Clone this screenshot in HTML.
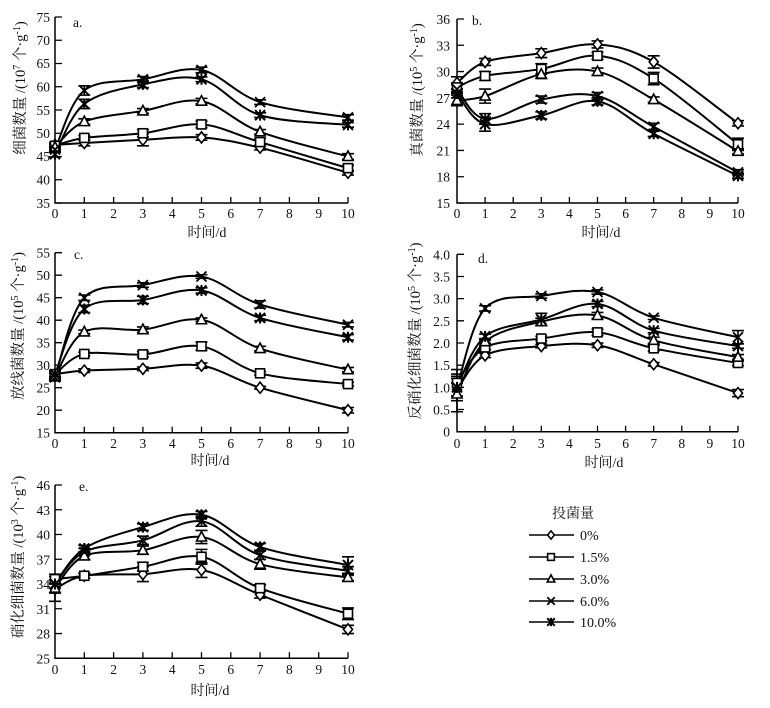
<!DOCTYPE html>
<html><head><meta charset="utf-8"><style>
html,body{margin:0;padding:0;background:#fff;}
svg{display:block;}
text{font-family:"Liberation Serif","Noto Serif CJK SC",serif;fill:#111;}
</style></head><body>
<svg id="s" width="770" height="708" viewBox="0 0 770 708" xmlns="http://www.w3.org/2000/svg">
<rect width="770" height="708" fill="#fff"/>
<g id="plots"></g>
<g font-size="13.5">
<!-- Panel a -->
<g text-anchor="end">
<text x="50" y="22">75</text><text x="50" y="45">70</text><text x="50" y="68">65</text><text x="50" y="91.5">60</text><text x="50" y="115">55</text><text x="50" y="138">50</text><text x="50" y="161">45</text><text x="50" y="184.5">40</text><text x="50" y="208">35</text>
</g>
<g text-anchor="middle">
<text x="55" y="218">0</text><text x="84.3" y="218">1</text><text x="113.6" y="218">2</text><text x="142.9" y="218">3</text><text x="172.2" y="218">4</text><text x="201.5" y="218">5</text><text x="230.8" y="218">6</text><text x="260.1" y="218">7</text><text x="289.4" y="218">8</text><text x="318.7" y="218">9</text><text x="348" y="218">10</text>
<text x="207" y="237" font-size="14">时间/d</text>
</g>
<text x="73" y="27">a.</text>
<text transform="translate(25,88) rotate(-90)" text-anchor="middle" font-size="14.5">细菌数量 /(10<tspan dy="-5" font-size="10">7</tspan><tspan dy="5"> 个·g</tspan><tspan dy="-5" font-size="10">-1</tspan><tspan dy="5">)</tspan></text>

<!-- Panel b -->
<g text-anchor="end">
<text x="450" y="24">36</text><text x="450" y="50.3">33</text><text x="450" y="76.6">30</text><text x="450" y="102.9">27</text><text x="450" y="129.1">24</text><text x="450" y="155.4">21</text><text x="450" y="181.7">18</text><text x="450" y="208">15</text>
</g>
<g text-anchor="middle">
<text x="457" y="218">0</text><text x="485.1" y="218">1</text><text x="513.2" y="218">2</text><text x="541.3" y="218">3</text><text x="569.4" y="218">4</text><text x="597.5" y="218">5</text><text x="625.6" y="218">6</text><text x="653.7" y="218">7</text><text x="681.8" y="218">8</text><text x="709.9" y="218">9</text><text x="738" y="218">10</text>
<text x="601" y="237" font-size="14">时间/d</text>
</g>
<text x="472" y="25">b.</text>
<text transform="translate(422,90) rotate(-90)" text-anchor="middle" font-size="14.5">真菌数量 /(10<tspan dy="-5" font-size="10">5</tspan><tspan dy="5"> 个·g</tspan><tspan dy="-5" font-size="10">-1</tspan><tspan dy="5">)</tspan></text>

<!-- Panel c -->
<g text-anchor="end">
<text x="50" y="257.7">55</text><text x="50" y="280.2">50</text><text x="50" y="302.7">45</text><text x="50" y="325.2">40</text><text x="50" y="347.7">35</text><text x="50" y="370.2">30</text><text x="50" y="392.7">25</text><text x="50" y="415.2">20</text><text x="50" y="437.7">15</text>
</g>
<g text-anchor="middle">
<text x="55" y="448">0</text><text x="84.3" y="448">1</text><text x="113.6" y="448">2</text><text x="142.9" y="448">3</text><text x="172.2" y="448">4</text><text x="201.5" y="448">5</text><text x="230.8" y="448">6</text><text x="260.1" y="448">7</text><text x="289.4" y="448">8</text><text x="318.7" y="448">9</text><text x="348" y="448">10</text>
<text x="210" y="465" font-size="14">时间/d</text>
</g>
<text x="74" y="259">c.</text>
<text transform="translate(23,326) rotate(-90)" text-anchor="middle" font-size="14.5">放线菌数量 /(10<tspan dy="-5" font-size="10">5</tspan><tspan dy="5"> 个·g</tspan><tspan dy="-5" font-size="10">-1</tspan><tspan dy="5">)</tspan></text>

<!-- Panel d -->
<g text-anchor="end">
<text x="450" y="259.3">4.0</text><text x="450" y="281.5">3.5</text><text x="450" y="303.7">3.0</text><text x="450" y="325.8">2.5</text><text x="450" y="348">2.0</text><text x="450" y="370.2">1.5</text><text x="450" y="392.4">1.0</text><text x="450" y="414.5">0.5</text><text x="450" y="436.7">0</text>
</g>
<g text-anchor="middle">
<text x="457" y="448">0</text><text x="485.1" y="448">1</text><text x="513.2" y="448">2</text><text x="541.3" y="448">3</text><text x="569.4" y="448">4</text><text x="597.5" y="448">5</text><text x="625.6" y="448">6</text><text x="653.7" y="448">7</text><text x="681.8" y="448">8</text><text x="709.9" y="448">9</text><text x="738" y="448">10</text>
<text x="604" y="467" font-size="14">时间/d</text>
</g>
<text x="478" y="263">d.</text>
<text transform="translate(420,331) rotate(-90)" text-anchor="middle" font-size="14.5">反硝化细菌数量 /(10<tspan dy="-5" font-size="10">5</tspan><tspan dy="5"> 个·g</tspan><tspan dy="-5" font-size="10">-1</tspan><tspan dy="5">)</tspan></text>

<!-- Panel e -->
<g text-anchor="end">
<text x="50" y="490">46</text><text x="50" y="514.8">43</text><text x="50" y="539.5">40</text><text x="50" y="564.3">37</text><text x="50" y="589">34</text><text x="50" y="613.8">31</text><text x="50" y="638.5">28</text><text x="50" y="663.3">25</text>
</g>
<g text-anchor="middle">
<text x="55" y="674">0</text><text x="84.3" y="674">1</text><text x="113.6" y="674">2</text><text x="142.9" y="674">3</text><text x="172.2" y="674">4</text><text x="201.5" y="674">5</text><text x="230.8" y="674">6</text><text x="260.1" y="674">7</text><text x="289.4" y="674">8</text><text x="318.7" y="674">9</text><text x="348" y="674">10</text>
<text x="210" y="695" font-size="14">时间/d</text>
</g>
<text x="79" y="491">e.</text>
<text transform="translate(23,557) rotate(-90)" text-anchor="middle" font-size="14.5">硝化细菌数量 /(10<tspan dy="-5" font-size="10">3</tspan><tspan dy="5"> 个·g</tspan><tspan dy="-5" font-size="10">-1</tspan><tspan dy="5">)</tspan></text>

<!-- Legend -->
<text x="573" y="518" text-anchor="middle" font-size="14">投菌量</text>
<text x="580" y="540" font-size="14">0%</text>
<text x="580" y="562" font-size="14">1.5%</text>
<text x="580" y="584" font-size="14">3.0%</text>
<text x="580" y="606" font-size="14">6.0%</text>
<text x="580" y="627" font-size="14">10.0%</text>
</g>
</svg>
<script>
(function(){
var NS="http://www.w3.org/2000/svg";
var G=document.getElementById("plots");
function el(n,a){var e=document.createElementNS(NS,n);for(var k in a)e.setAttribute(k,a[k]);G.appendChild(e);return e;}
var T=[0,1,3,5,7,10];
var panels=[
{x0:55,x1:348,yb:203,yt:17,vmin:35,vmax:75,step:5,
 d:[[47.5,47.9,48.6,49.1,46.9,41.5],[47.3,49,50,51.9,48.1,42.5],[47,52.5,54.8,56.9,50.3,45],[46.5,59.2,61.6,63.6,56.7,53.4],[45.5,56.3,60.5,61.6,53.9,51.8]],
 e:[[0.5,0.6,1.3,0.6,0.5,0.5],[0.5,0.5,0.8,0.7,0.8,0.6],[0.5,0.6,0.5,0.6,0.5,0.6],[0.6,1,0.6,0.6,0.5,0.6],[0.6,1,0.7,0.5,0.5,0.5]]},
{x0:457,x1:738,yb:203,yt:19,vmin:15,vmax:36,step:3,
 d:[[28.7,31.1,32.1,33.1,31.1,24.1],[28.2,29.5,30.3,31.8,29.2,21.7],[26.7,27.2,29.7,30,26.8,20.9],[28,24.6,26.8,27.2,23.7,18.5],[27.5,24,25,26.6,22.9,18.1]],
 e:[[0.7,0.4,0.5,0.4,0.7,0.3],[0.5,0.5,0.6,0.4,0.7,0.7],[0.6,0.8,0.5,0.4,0.3,0.3],[0.5,0.6,0.4,0.4,0.4,0.3],[0.5,0.8,0.4,0.4,0.3,0.3]]},
{x0:55,x1:348,yb:432.7,yt:252.7,vmin:15,vmax:55,step:5,
 d:[[28,28.8,29.2,29.9,25,20],[28,32.5,32.4,34.2,28.2,25.8],[27.5,37.4,37.9,40.1,33.7,29],[27.3,45,47.8,49.7,43.5,39],[28,42.5,44.5,46.6,40.5,36.2]],
 e:[[0.5,0.4,0.4,0.6,0.3,0.6],[0.5,0.4,0.6,0.9,0.4,0.4],[0.6,0.4,0.6,0.4,0.5,0.5],[0.8,0.6,0.5,0.4,0.8,0.5],[0.8,0.8,0.8,0.6,0.6,0.6]]},
{x0:457,x1:738,yb:431.7,yt:254.3,vmin:0,vmax:4,step:0.5,
 d:[[0.95,1.72,1.93,1.95,1.52,0.87],[1.1,1.9,2.1,2.24,1.88,1.55],[0.85,2.03,2.48,2.62,2.06,1.68],[1.0,2.78,3.06,3.15,2.57,2.13],[1.0,2.15,2.53,2.88,2.28,1.93]],
 e:[[0.15,0.05,0.04,0.05,0.04,0.08],[0.3,0.05,0.05,0.07,0.06,0.06],[0.4,0.04,0.08,0.07,0.07,0.06],[0.2,0.06,0.05,0.05,0.04,0.15],[0.3,0.05,0.14,0.06,0.05,0.05]]},
{x0:55,x1:348,yb:658.3,yt:485,vmin:25,vmax:46,step:3,
 d:[[33.4,35,35.2,35.7,32.7,28.5],[34.6,35,36.1,37.3,33.5,30.4],[33.5,37.4,38.1,39.7,36.4,34.8],[34,37.9,39.3,41.6,37.5,35.6],[34,38.3,40.9,42.4,38.5,36.3]],
 e:[[1.5,0.3,0.9,0.9,0.4,0.5],[0.6,0.3,0.5,0.9,0.4,0.7],[0.6,0.4,0.5,0.8,0.6,0.4],[0.5,0.4,0.5,0.6,0.5,0.5],[0.5,0.4,0.4,0.4,0.4,1.0]]}
];
function marker(k,x,y,sc){
  sc=sc||1;var s=5*sc;
  var st={stroke:"#000","stroke-width":1.6,fill:"#fff"};
  if(k==0){st.points=[x,y-s*1.1,x+s*0.9,y,x,y+s*1.1,x-s*0.9,y].join(" ");el("polygon",st);}
  else if(k==1){st.x=x-s*0.9;st.y=y-s*0.9;st.width=s*1.8;st.height=s*1.8;el("rect",st);}
  else if(k==2){st.points=[x,y-s*1.1,x+s,y+s*0.8,x-s,y+s*0.8].join(" ");el("polygon",st);}
  else if(k==3){el("path",{d:"M"+(x-s)+" "+(y-s)+"L"+(x+s)+" "+(y+s)+"M"+(x+s)+" "+(y-s)+"L"+(x-s)+" "+(y+s),stroke:"#000","stroke-width":1.8,fill:"none"});}
  else {el("path",{d:"M"+(x-s)+" "+(y-s)+"L"+(x+s)+" "+(y+s)+"M"+(x+s)+" "+(y-s)+"L"+(x-s)+" "+(y+s)+"M"+x+" "+(y-s*1.1)+"L"+x+" "+(y+s*1.1),stroke:"#000","stroke-width":2,fill:"none"});}
}
panels.forEach(function(p){
  var ux=(p.x1-p.x0)/10, uy=(p.yb-p.yt)/(p.vmax-p.vmin);
  function X(t){return p.x0+t*ux;} function Y(v){return p.yb-(v-p.vmin)*uy;}
  // axes
  el("path",{d:"M"+p.x0+" "+p.yt+"L"+p.x0+" "+p.yb+"L"+p.x1+" "+p.yb,stroke:"#000","stroke-width":1.5,fill:"none"});
  var d="";
  for(var v=p.vmin;v<=p.vmax+1e-6;v+=p.step){var yy=Y(v);d+="M"+p.x0+" "+yy+"L"+(p.x0+7)+" "+yy;}
  for(var t=1;t<=10;t++){d+="M"+X(t)+" "+p.yb+"L"+X(t)+" "+(p.yb-6);}
  el("path",{d:d,stroke:"#000","stroke-width":1.3,fill:"none"});
  // lines
  p.d.forEach(function(s){
    var pts=s.map(function(v,i){return [X(T[i]),Y(v)];});
    var path="M"+pts[0][0]+" "+pts[0][1];
    for(var i=0;i<pts.length-1;i++){
      var p0=pts[Math.max(i-1,0)],p1=pts[i],p2=pts[i+1],p3=pts[Math.min(i+2,pts.length-1)];
      var c1=[p1[0]+(p2[0]-p0[0])/6,p1[1]+(p2[1]-p0[1])/6];
      var c2=[p2[0]-(p3[0]-p1[0])/6,p2[1]-(p3[1]-p1[1])/6];
      path+="C"+c1[0]+" "+c1[1]+" "+c2[0]+" "+c2[1]+" "+p2[0]+" "+p2[1];
    }
    el("path",{d:path,stroke:"#000","stroke-width":2,fill:"none"});
  });
  // error bars + markers
  p.d.forEach(function(s,k){
    s.forEach(function(v,i){
      var x=X(T[i]),e=p.e[k][i],ya=Y(v+e),yb=Y(v-e);
      el("path",{d:"M"+x+" "+ya+"L"+x+" "+yb+"M"+(x-6)+" "+ya+"L"+(x+6)+" "+ya+"M"+(x-6)+" "+yb+"L"+(x+6)+" "+yb,stroke:"#000","stroke-width":1.6,fill:"none"});
    });
  });
  p.d.forEach(function(s,k){
    s.forEach(function(v,i){marker(k,X(T[i]),Y(v));});
  });
});
// legend
var ly=[535,557,579,601,622];
ly.forEach(function(y,k){
  el("path",{d:"M529 "+y+"L574 "+y,stroke:"#000","stroke-width":1.6,fill:"none"});
  marker(k,551,y,0.75);
});
})();
</script>
</body></html>
